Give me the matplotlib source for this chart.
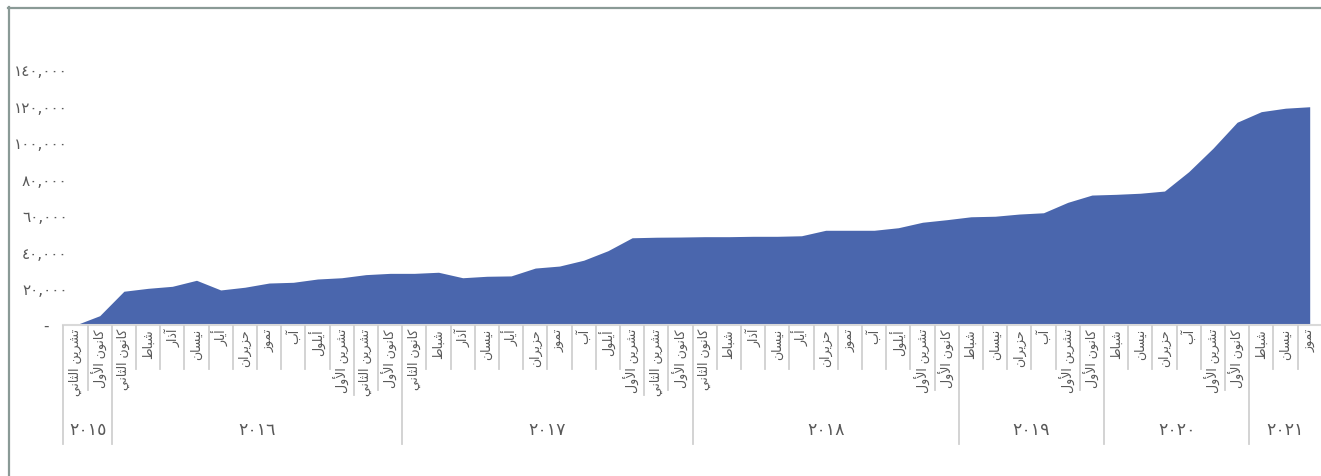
import matplotlib
matplotlib.use("Agg")
import matplotlib.pyplot as plt
from matplotlib.lines import Line2D
from matplotlib.transforms import blended_transform_factory
import numpy as np

plt.rcParams['font.family'] = ['DejaVu Sans']

# ---------------- data ----------------
years = ['٢٠١٥', '٢٠١٦', '٢٠١٧', '٢٠١٨', '٢٠١٩', '٢٠٢٠', '٢٠٢١']
year_counts = [2, 12, 12, 11, 6, 6, 3]
months = [
    'تشرين الثاني', 'كانون الأول',
    'كانون الثاني', 'شباط', 'آذار', 'نيسان', 'أيار', 'حزيران', 'تموز', 'آب', 'أيلول',
    'تشرين الأول', 'تشرين الثاني', 'كانون الأول',
    'كانون الثاني', 'شباط', 'آذار', 'نيسان', 'أيار', 'حزيران', 'تموز', 'آب', 'أيلول',
    'تشرين الأول', 'تشرين الثاني', 'كانون الأول',
    'كانون الثاني', 'شباط', 'آذار', 'نيسان', 'أيار', 'حزيران', 'تموز', 'آب', 'أيلول',
    'تشرين الأول', 'كانون الأول',
    'شباط', 'نيسان', 'حزيران', 'آب', 'تشرين الأول', 'كانون الأول',
    'شباط', 'نيسان', 'حزيران', 'آب', 'تشرين الأول', 'كانون الأول',
    'شباط', 'نيسان', 'تموز',
]
values = [0, 5100, 18500, 20100, 21200, 24500, 19200, 20700, 23000, 23400, 25200, 25900, 27600, 28300,
          28300, 28900, 25900, 26700, 26900, 31200, 32300, 35500, 40700, 47800, 48100, 48200,
          48400, 48400, 48600, 48600, 48900, 51900, 51900, 51900, 53300, 56300,
          57700, 59300, 59600, 60800, 61500, 67200, 71200, 71600, 72200, 73400, 84000, 96800,
          111100, 116900, 118800, 119600]
y_ticks = [0, 20000, 40000, 60000, 80000, 100000, 120000, 140000]
y_tick_labels = ['-', '٢٠,٠٠٠', '٤٠,٠٠٠', '٦٠,٠٠٠', '٨٠,٠٠٠', '١٠٠,٠٠٠', '١٢٠,٠٠٠', '١٤٠,٠٠٠']

# ---------------- minimal Arabic shaping (matplotlib has no complex layout) ----------------
FORMS = {
    '\u0627': ('\uFE8D', '\uFE8E', None, None),
    '\u0623': ('\uFE83', '\uFE84', None, None),
    '\u0622': ('\uFE81', '\uFE82', None, None),
    '\u0628': ('\uFE8F', '\uFE90', '\uFE91', '\uFE92'),
    '\u062A': ('\uFE95', '\uFE96', '\uFE97', '\uFE98'),
    '\u062B': ('\uFE99', '\uFE9A', '\uFE9B', '\uFE9C'),
    '\u062D': ('\uFEA1', '\uFEA2', '\uFEA3', '\uFEA4'),
    '\u0630': ('\uFEAB', '\uFEAC', None, None),
    '\u0631': ('\uFEAD', '\uFEAE', None, None),
    '\u0632': ('\uFEAF', '\uFEB0', None, None),
    '\u0633': ('\uFEB1', '\uFEB2', '\uFEB3', '\uFEB4'),
    '\u0634': ('\uFEB5', '\uFEB6', '\uFEB7', '\uFEB8'),
    '\u0637': ('\uFEC1', '\uFEC2', '\uFEC3', '\uFEC4'),
    '\u0643': ('\uFED9', '\uFEDA', '\uFEDB', '\uFEDC'),
    '\u0644': ('\uFEDD', '\uFEDE', '\uFEDF', '\uFEE0'),
    '\u0645': ('\uFEE1', '\uFEE2', '\uFEE3', '\uFEE4'),
    '\u0646': ('\uFEE5', '\uFEE6', '\uFEE7', '\uFEE8'),
    '\u0648': ('\uFEED', '\uFEEE', None, None),
    '\u064A': ('\uFEF1', '\uFEF2', '\uFEF3', '\uFEF4'),
}
LAM_ALEF = {'\u0627': ('\uFEFB', '\uFEFC'), '\u0623': ('\uFEF7', '\uFEF8'), '\u0622': ('\uFEF5', '\uFEF6')}


def shape(s):
    toks = []
    i = 0
    while i < len(s):
        c = s[i]
        if c == '\u0644' and i + 1 < len(s) and s[i + 1] in LAM_ALEF:
            toks.append(('LA', s[i + 1]))
            i += 2
        else:
            toks.append(('C', c))
            i += 1

    def jn(t):
        return t[0] == 'C' and t[1] in FORMS and FORMS[t[1]][2] is not None

    def jp(t):
        return t[0] == 'LA' or t[1] in FORMS

    out = []
    for k, t in enumerate(toks):
        prev = toks[k - 1] if k > 0 else None
        nxt = toks[k + 1] if k + 1 < len(toks) else None
        cp = prev is not None and jn(prev) and jp(t)
        cn = nxt is not None and jn(t) and jp(nxt)
        if t[0] == 'LA':
            out.append(LAM_ALEF[t[1]][1 if cp else 0])
        elif t[1] in FORMS:
            iso, fin, ini, med = FORMS[t[1]]
            out.append(med if (cp and cn) else fin if cp else ini if cn else iso)
        else:
            out.append(t[1])
    return ''.join(reversed(out))


# ---------------- figure ----------------
W, H = 1321, 477
fig = plt.figure(figsize=(W / 100, H / 100), dpi=100)
fig.patch.set_facecolor('white')


def fx(px):
    return px / W


def fy(py):
    return (H - py) / H


left_px, right_px = 63.4, 1321.8
bottom_px, top_px = 326, 34
ax = fig.add_axes([fx(left_px), fy(bottom_px), fx(right_px - left_px), (bottom_px - top_px) / H])

x = np.arange(len(values))
ax.fill_between(x, 0, values, color='#4a66ad', linewidth=0)
ax.set_xlim(-0.5, len(values) - 0.5)
ax.set_ylim(0, 160000)

for s in ['top', 'right', 'left']:
    ax.spines[s].set_visible(False)
ax.spines['bottom'].set_color('#d9d9d9')
ax.spines['bottom'].set_linewidth(1.5)
ax.set_xticks([])
ax.set_yticks(y_ticks[1:])
ax.set_yticklabels(y_tick_labels[1:])
ax.tick_params(axis='y', length=0, pad=-3, labelsize=11, labelcolor='#595959')

# zero label (accounting-style dash, sits further left)
tr_y = blended_transform_factory(fig.transFigure, ax.transData)
fig.text(fx(49), y_ticks[0], y_tick_labels[0], ha='right', va='center', fontsize=11,
         color='#595959', transform=tr_y)

tr = blended_transform_factory(ax.transData, fig.transFigure)

# month labels
texts = []
for i, m in enumerate(months):
    t = fig.text(i, fy(329), shape(m), rotation=90, ha='center', va='top', fontsize=9,
                 color='#595959', transform=tr)
    texts.append(t)

# year labels and group boundaries
boundaries = np.cumsum([0] + year_counts) - 0.5
for j, yr in enumerate(years):
    c = (boundaries[j] + boundaries[j + 1]) / 2
    fig.text(c, fy(430), yr, ha='center', va='center', fontsize=12.5, color='#595959', transform=tr)

fig.canvas.draw()
renderer = fig.canvas.get_renderer()
bottoms = [H - t.get_window_extent(renderer).y0 for t in texts]

sep_color = '#d0d0d0'
for b in boundaries:
    fig.add_artist(Line2D([b, b], [fy(327), fy(445)], transform=tr, color=sep_color, lw=1.3))
group_edges = set(np.round(boundaries, 2))
for i in range(1, len(months)):
    b = i - 0.5
    if round(b, 2) in group_edges:
        continue
    end = max(370, min(bottoms[i - 1], bottoms[i]) + 3)
    fig.add_artist(Line2D([b, b], [fy(327), fy(end)], transform=tr, color=sep_color, lw=1.3))

# outer chart border
border = '#8a9a96'
fig.add_artist(Line2D([fx(8.5), fx(8.5)], [fy(8), fy(H + 5)], color=border, lw=1.6))
fig.add_artist(Line2D([fx(8), fx(W + 5)], [fy(8.5), fy(8.5)], color=border, lw=1.6))

fig.savefig('out.png', dpi=100, facecolor='white')
